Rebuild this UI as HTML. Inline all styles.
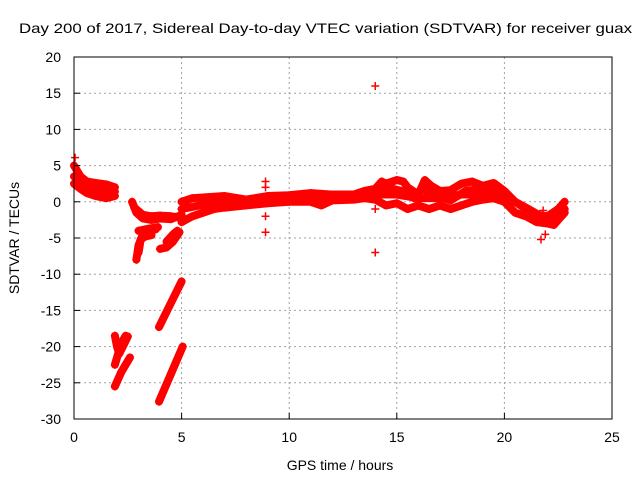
<!DOCTYPE html>
<html><head><meta charset="utf-8"><style>
body{margin:0;background:#fff}
svg{display:block;font-family:"Liberation Sans",sans-serif}
</style></head><body>
<svg id="chart" width="640" height="480" viewBox="0 0 640 480">
<text x="19" y="33" font-size="14" textLength="613" lengthAdjust="spacingAndGlyphs">Day 200 of 2017, Sidereal Day-to-day VTEC variation (SDTVAR) for receiver guax</text>
<text transform="translate(19,238) rotate(-90)" font-size="14" text-anchor="middle">SDTVAR / TECUs</text>
<text x="340" y="470" font-size="14" text-anchor="middle">GPS time / hours</text>
<g id="grid"></g><g id="marks"></g><g id="axes"></g>
</svg>
<script>
const xTicks=[0,5,10,15,20,25];
const yTicks=[20,15,10,5,0,-5,-10,-15,-20,-25,-30];
const traceA1=[[0,5],[0.3,3.5],[0.6,2.8],[1.0,2.6],[1.5,2.4],[1.9,2.0]];
const traceA2=[[0,2.5],[0.3,1.8],[0.6,1.2],[1.0,0.8],[1.5,0.5],[1.9,0.8]];
const traceA3=[[0,3.5],[0.3,2.6],[0.6,2.0],[1.0,1.7],[1.5,1.4],[1.9,1.4]];
const traceB=[[2.7,0],[2.9,-1.5],[3.2,-2.3],[3.6,-2.5],[4.0,-2.3],[4.5,-2.4],[5.0,-1.8]];
const traceB2=[[2.8,-0.8],[3.2,-1.8],[3.6,-2.0],[4.0,-1.9],[4.5,-2.0],[5.0,-2.2]];
const traceC1=[[2.9,-8],[3.0,-6],[3.2,-4.5],[3.5,-4],[3.8,-3.8]];
const traceC2=[[3.0,-4],[3.5,-3.7],[3.9,-3.5]];
const traceC3=[[3.0,-7],[3.1,-5.2],[3.3,-4.8],[3.6,-4.6]];
const traceD1=[[4.0,-6.5],[4.3,-6.3],[4.6,-5.5],[4.9,-4.2]];
const traceD2=[[4.3,-5.5],[4.6,-4.5],[4.8,-4]];
const traceE=[[3.95,-17.3],[4.5,-14],[5.0,-11]];
const traceF=[[3.95,-27.6],[4.5,-23.8],[5.05,-20]];
const traceG1=[[1.9,-18.5],[2.0,-20],[2.1,-21],[2.5,-18.6]];
const traceG2=[[1.9,-25.5],[2.2,-23.5],[2.6,-21.5]];
const traceG3=[[1.9,-22.5],[2.1,-20.5],[2.3,-19],[2.4,-18.5]];
const traceH1=[[5.0,-2.8],[5.5,-2],[6,-1.5],[6.5,-1],[7,-0.8],[8,-0.5],[9,-0.2],[10,0],[11,0],[11.5,-0.5],[12,0.2],[13,0.3],[13.5,0.5],[14,0.3],[14.5,-0.5],[15,-0.2],[15.5,-1],[16,-0.5],[16.5,-1],[17,-0.5],[17.5,-1],[18,-0.5],[18.5,0],[19,0.3],[19.5,0.5],[20,0],[20.5,-1.5],[21,-2],[21.5,-2.8],[22,-3],[22.3,-3.2],[22.5,-2.5],[22.8,-1.5]];
const traceH2=[[5.0,0],[5.5,0.5],[6,0.6],[7,0.8],[8,0.3],[9,0.8],[10,0.9],[11,1.2],[12,1],[13,1],[13.5,1.5],[14,1.8],[14.3,2.8],[14.5,2.5],[15,3],[15.3,2.8],[15.5,2],[16,1],[16.3,3],[16.6,2.2],[17,1.5],[17.5,1.6],[18,2.5],[18.5,2.8],[19,2.2],[19.5,2.6],[20,1.5],[20.5,0],[21,-1],[21.5,-1.8],[22,-2],[22.5,-1],[22.8,0]];
const traceH3=[[5,-1],[6,-0.4],[7,0],[8,-0.1],[9,0.2],[10,0.4],[11,0.5],[12,0.5],[13,0.6],[14,1],[15,1],[16,0.5],[17,0.5],[18,1],[19,1],[20,0.8],[21,-0.8],[22,-2.5],[22.5,-1.8],[22.8,-1]];
const traceH4=[[14.2,1.5],[14.8,1.8],[15.2,1.5],[15.8,0.5],[16.2,1.8],[16.8,0.8],[17.5,0.2],[18.2,1.5],[19,1.8],[19.8,1.5]];
const scatterPts=[[8.9,2.8],[8.9,2],[8.9,-2],[8.9,-4.2],[14,16],[14,-7],[14,-1],[21.7,-5.2],[21.9,-4.5],[21.8,-1.2],[0.05,6.1]];
const traces=[traceA1,traceA2,traceA3,traceB,traceB2,traceC1,traceC2,traceC3,traceD1,traceD2,traceE,traceF,traceG1,traceG2,traceG3,traceH1,traceH2,traceH3,traceH4];

const X0=74,X1=612,Y0=57,Y1=419;
const sx=t=>X0+(t-0)/(25-0)*(X1-X0);
const sy=v=>Y1-(v+30)/(20+30)*(Y1-Y0);
const NS='http://www.w3.org/2000/svg';
const grid=document.getElementById('grid'),marks=document.getElementById('marks'),axes=document.getElementById('axes');
function mk(tag,attrs,parent){const e=document.createElementNS(NS,tag);for(const k in attrs)e.setAttribute(k,attrs[k]);parent.appendChild(e);return e;}

xTicks.forEach(t=>{
  if(t>0&&t<25){const g=mk('line',{x1:sx(t),x2:sx(t),y1:Y0,y2:Y1,stroke:'#a0a0a0','stroke-dasharray':'2,3'},grid);
  
  }
  const tk=mk('line',{x1:sx(t),x2:sx(t),y1:Y1,y2:Y1-6,stroke:'#000'},axes);
  
  
  const lb=mk('text',{x:sx(t),y:Y1+23,'font-size':14,'text-anchor':'middle'},axes);
  lb.textContent=t;
  
  
});
yTicks.forEach(v=>{
  if(v>-30&&v<20){const g=mk('line',{x1:X0,x2:X1,y1:sy(v),y2:sy(v),stroke:'#a0a0a0','stroke-dasharray':'2,3'},grid);
  
  }
  const tk=mk('line',{x1:X0,x2:X0+6,y1:sy(v),y2:sy(v),stroke:'#000'},axes);
  
  
  const lb=mk('text',{x:X0-13,y:sy(v)+5,'font-size':14,'text-anchor':'end'},axes);
  lb.textContent=v;
  
  
});
const frame=mk('rect',{x:X0,y:Y0,width:X1-X0,height:Y1-Y0,fill:'none',stroke:'#000'},axes);



function plus(t,v){const x=sx(t),y=sy(v);
  const p=mk('path',{d:`M${x-4},${y}H${x+4}M${x},${y-4}V${y+4}`,stroke:'#f00','stroke-width':1.5,fill:'none'},marks);
  
  }
traces.forEach(tr=>{
  const pl=mk('polyline',{points:tr.map(p=>sx(p[0])+','+sy(p[1])).join(' '),fill:'none',stroke:'#f00','stroke-width':8,'stroke-linejoin':'round','stroke-linecap':'round'},marks);
  
  
  tr.forEach(p=>plus(p[0],p[1]));
});
scatterPts.forEach(p=>plus(p[0],p[1]));
</script>
</body></html>
